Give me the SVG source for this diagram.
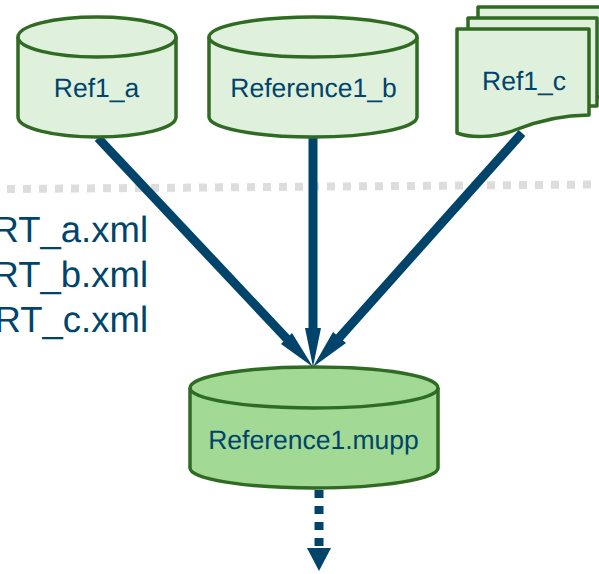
<svg xmlns="http://www.w3.org/2000/svg" width="599" height="574" viewBox="0 0 599 574">
<style>
.n{fill:#dff1dc;stroke:#2f6b22;stroke-width:3.5;stroke-linejoin:round}
.m{fill:#a1d995}
.t{font-family:"Liberation Sans",Arial,sans-serif;fill:#00446b;font-size:26.500px;text-anchor:middle;text-rendering:geometricPrecision}
.r{font-family:"Liberation Sans",Arial,sans-serif;fill:#00446b;font-size:36.500px;text-anchor:end;text-rendering:geometricPrecision}
.a{fill:none;stroke:#00446b;stroke-width:9}
.h{fill:#00446b}
</style>
<line x1="7" y1="189" x2="599" y2="184.500" stroke="#dddddd" stroke-width="8" stroke-dasharray="8 8"/>
<g id="labels">
<text class="r" x="148" y="242">RT_a.xml</text>
<text class="r" x="148" y="287">RT_b.xml</text>
<text class="r" x="148" y="332">RT_c.xml</text>
</g>
<g id="connectors">
<line class="a" x1="98" y1="138" x2="288" y2="340"/>
<line class="a" x1="313" y1="138" x2="313" y2="330"/>
<line class="a" x1="522" y1="133" x2="339" y2="338"/>
<path class="h" d="M313 367L281 344L292 333Z"/>
<path class="h" d="M313 367L305 328H321Z"/>
<path class="h" d="M313 367L346 343L333 332Z"/>
<line class="a" x1="319" y1="490" x2="319" y2="546" stroke-dasharray="8 8"/>
<path class="h" d="M307 548H331L319 571Z"/>
</g>
<g id="ref1_a">
<path class="n" d="M18 37C18 26 53 17 97 17S176 26 176 37V117C176 128 141 137 97 137S18 128 18 117Z"/>
<path class="n" style="fill:none" d="M18 37C18 48 53 57 97 57S176 48 176 37"/>
<text class="t" x="96.500" y="97">Ref1_a</text>
</g>
<g id="reference1_b">
<path class="n" d="M209 37C209 26 256 17 313 17S417 26 417 37V117C417 128 370 137 313 137S209 128 209 117Z"/>
<path class="n" style="fill:none" d="M209 37C209 48 256 57 313 57S417 48 417 37"/>
<text class="t" x="313.500" y="97">Reference1_b</text>
</g>
<g id="ref1_c">
<rect class="n" x="478" y="7" width="130" height="90"/>
<rect class="n" x="468" y="18" width="129" height="88"/>
<path class="n" d="M457 29H589V115C560 115 535 122 515 130C495 138 470 138 457 133Z"/>
<text class="t" x="524" y="90">Ref1_c</text>
</g>
<g id="reference1_mupp">
<path class="n m" d="M190 388C190 376 245 367 314 367S438 376 438 388V468C438 479 383 488 314 488S190 479 190 468Z"/>
<path class="n" style="fill:none" d="M190 388C190 399 245 408 314 408S438 399 438 388"/>
<text class="t" x="313.500" y="448.500">Reference1.mupp</text>
</g>
</svg>
